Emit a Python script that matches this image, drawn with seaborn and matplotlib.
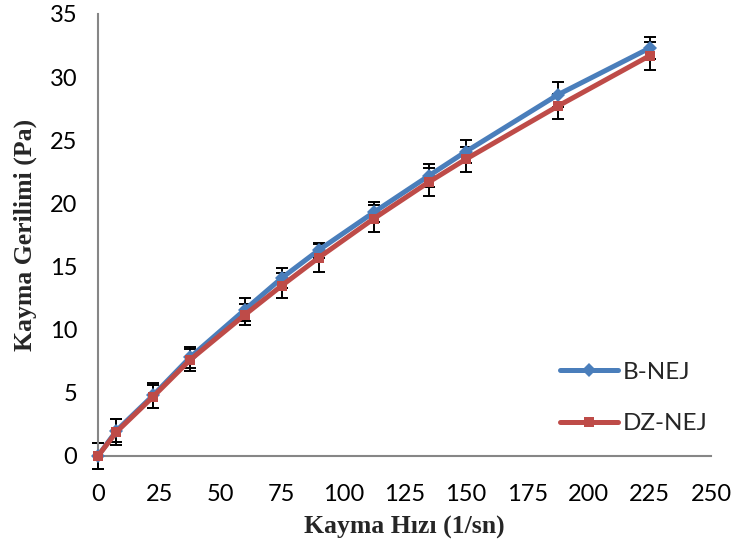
import matplotlib
matplotlib.use("Agg")
import matplotlib.pyplot as plt
import seaborn as sns
import pandas as pd
import numpy as np

shear_rate = [0, 7.5, 22.5, 37.5, 60, 75, 90, 112.5, 135, 150, 187.5, 225]
b_nej = [0, 2.0, 4.8, 7.8, 11.6, 14.1, 16.3, 19.3, 22.2, 24.1, 28.6, 32.3]
dz_nej = [0, 1.9, 4.7, 7.6, 11.2, 13.5, 15.7, 18.8, 21.7, 23.5, 27.7, 31.7]
b_err = [1.0, 0.9, 1.0, 0.8, 0.9, 0.8, 0.6, 0.8, 0.9, 0.9, 1.0, 0.9]
dz_err = [1.0, 1.0, 0.9, 0.9, 0.8, 1.0, 1.1, 1.1, 1.1, 1.0, 1.0, 1.1]
series_names = ["B-NEJ", "DZ-NEJ"]
x_ticks = [0, 25, 50, 75, 100, 125, 150, 175, 200, 225, 250]
y_ticks = [0, 5, 10, 15, 20, 25, 30, 35]

sns.set_style("white")
plt.rcParams["font.family"] = ["Lato", "DejaVu Sans"]

df = pd.DataFrame({
    "x": shear_rate * 2,
    "y": b_nej + dz_nej,
    "series": [series_names[0]] * len(shear_rate) + [series_names[1]] * len(shear_rate),
})

fig = plt.figure(figsize=(7.35, 5.54), dpi=100)
ax = fig.add_axes([98 / 735, 1 - 456 / 554, (711 - 98) / 735, (456 - 14) / 554])

colors = {"B-NEJ": "#4A7EBB", "DZ-NEJ": "#BE4B48"}

# error bars (behind lines)
for yv, ev in [(b_nej, b_err), (dz_nej, dz_err)]:
    ax.errorbar(shear_rate, yv, yerr=ev, fmt="none", ecolor="black",
                elinewidth=1.4, capsize=4.6, capthick=1.4, zorder=1,
                clip_on=False)

sns.lineplot(data=df, x="x", y="y", hue="series", style="series",
             palette=colors, markers={"B-NEJ": "D", "DZ-NEJ": "s"},
             dashes=False, linewidth=3.6, markersize=7.2,
             markeredgewidth=0, ax=ax, zorder=3, clip_on=False)

ax.set_xlim(0, 250)
ax.set_ylim(0, 35)
ax.set_xticks(x_ticks)
ax.set_yticks(y_ticks)
ax.set_xticklabels([str(t) for t in x_ticks])
ax.set_yticklabels([str(t) for t in y_ticks])

for s in ["top", "right"]:
    ax.spines[s].set_visible(False)
for s in ["left", "bottom"]:
    ax.spines[s].set_color("#868686")
    ax.spines[s].set_linewidth(1.5)

ax.tick_params(axis="both", which="major", direction="out", length=5,
               width=1.5, color="#868686", labelsize=17, labelcolor="black")
ax.tick_params(axis="x", pad=15)
ax.tick_params(axis="y", pad=10)

ax.set_xlabel("Kayma Hızı (1/sn)", fontsize=18.5, fontweight="bold",
              family=["Liberation Serif", "DejaVu Serif"], labelpad=8)
ax.set_ylabel("Kayma Gerilimi (Pa)", fontsize=18.5, fontweight="bold",
              family=["Liberation Serif", "DejaVu Serif"], labelpad=9)

leg = ax.legend(loc="lower right", bbox_to_anchor=(1.03, 0.0), frameon=False,
                fontsize=17.5, handlelength=2.4, labelspacing=1.25,
                handletextpad=0.2)

fig.savefig("out.png", dpi=100)
